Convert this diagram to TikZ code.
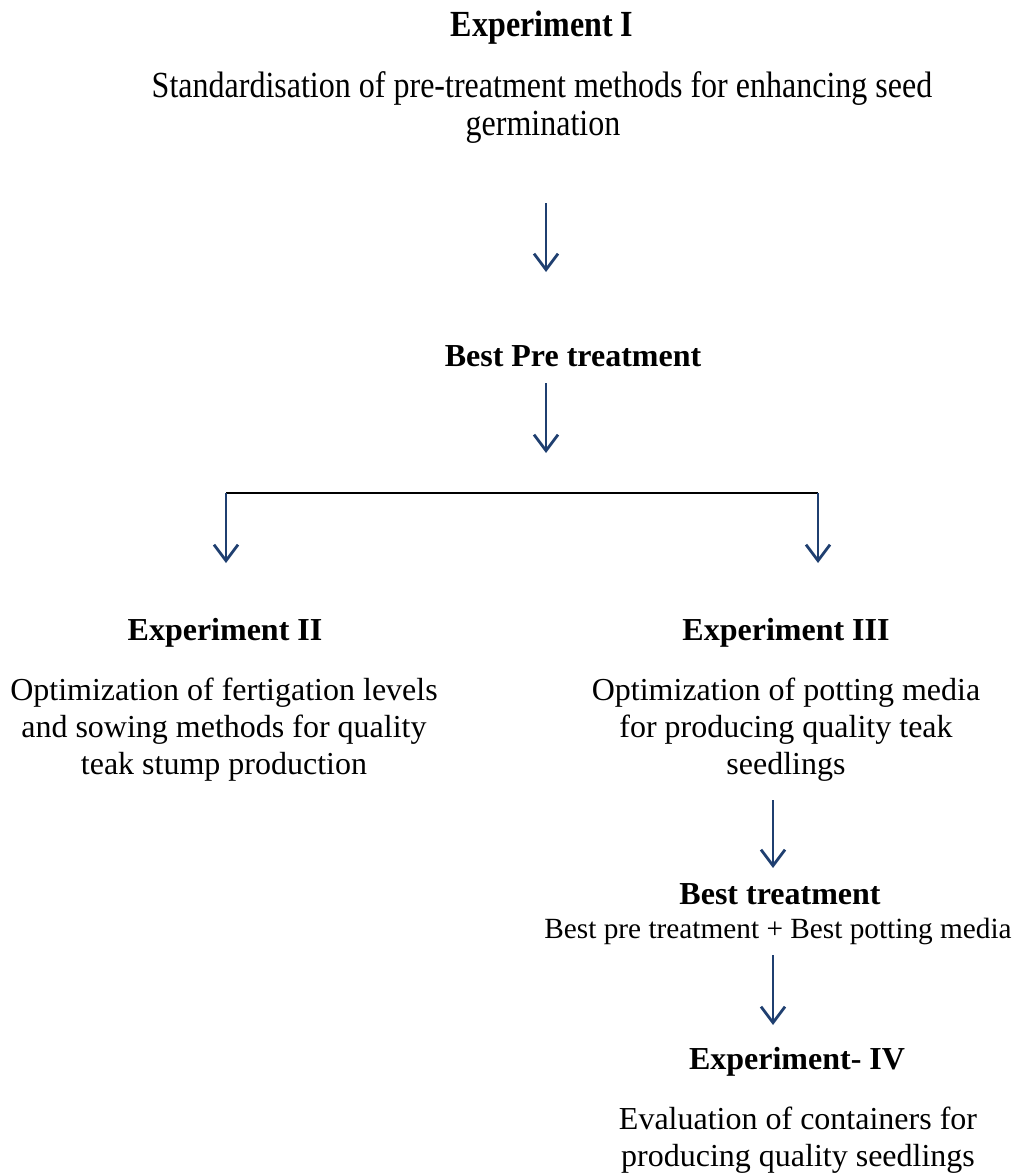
\documentclass[tikz,border=0pt]{standalone}
\usepackage{fontspec}
\setmainfont{Liberation Serif}
\newfontfamily\tallfont[FakeStretch=0.87]{Liberation Serif}
\usepackage{tikz}
\usetikzlibrary{arrows.meta}
\definecolor{arrowblue}{RGB}{31,63,112}

\begin{document}
\begin{tikzpicture}[x=1pt, y=-1pt,
	txt/.style={anchor=base, inner sep=0pt, align=center, font=\fontsize{32}{37}\selectfont},
	toptxt/.style={anchor=base, inner sep=0pt, align=center, font=\tallfont\fontsize{36.8}{38}\selectfont},
	down/.style={draw=arrowblue, line width=2.8pt, -{Straight Barb[length=16pt, width=24pt]}}]
		\useasboundingbox (0,0) rectangle (1016,1175);
		% top part
		\node[toptxt] (exp1) at (542,36) {\textbf{Experiment I}};
		\node[toptxt] (exp1a) at (542,97) {Standardisation of pre-treatment methods for enhancing seed};
		\node[toptxt] (exp1b) at (543,135) {germination};
		\coordinate (a1s) at (546,203);
		\coordinate (a1e) at (546,272);
		\draw[down] (a1s) -- (a1e);
		\node[txt] (bestpre) at (573,366) {\textbf{Best Pre treatment}};
		\coordinate (a2s) at (546,383);
		\coordinate (a2e) at (546,453);
		\draw[down] (a2s) -- (a2e);
		% branch
		\coordinate (bl) at (226,493);
		\coordinate (br) at (818,493);
		\coordinate (bl2) at (226,563);
		\coordinate (br2) at (818,563);
		\draw[line width=2.2pt] (bl) -- (br);
		\draw[down] (bl) -- (bl2);
		\draw[down] (br) -- (br2);
		% left and right experiments (base = last line)
		\node[txt] (exp2) at (225,640) {\textbf{Experiment II}};
		\node[txt] (exp2a) at (224,774) {Optimization of fertigation levels\\and sowing methods for quality\\teak stump production};
		\node[txt] (exp3) at (786,640) {\textbf{Experiment III}};
		\node[txt] (exp3a) at (786,774) {Optimization of potting media\\for producing quality teak\\seedlings};
		\coordinate (a5s) at (773,800);
		\coordinate (a5e) at (773,868);
		\draw[down] (a5s) -- (a5e);
		\node[txt] (best) at (780,904) {\textbf{Best treatment}};
		\node[txt, font=\fontsize{29.3}{35}\selectfont] (besta) at (778,938) {Best pre treatment + Best potting media};
		\coordinate (a6s) at (773,955);
		\coordinate (a6e) at (773,1025);
		\draw[down] (a6s) -- (a6e);
		\node[txt] (exp4) at (797,1069) {\textbf{Experiment- IV}};
		\node[txt] (exp4a) at (798,1166) {Evaluation of containers for\\producing quality seedlings};
		\end{tikzpicture}
\end{document}
